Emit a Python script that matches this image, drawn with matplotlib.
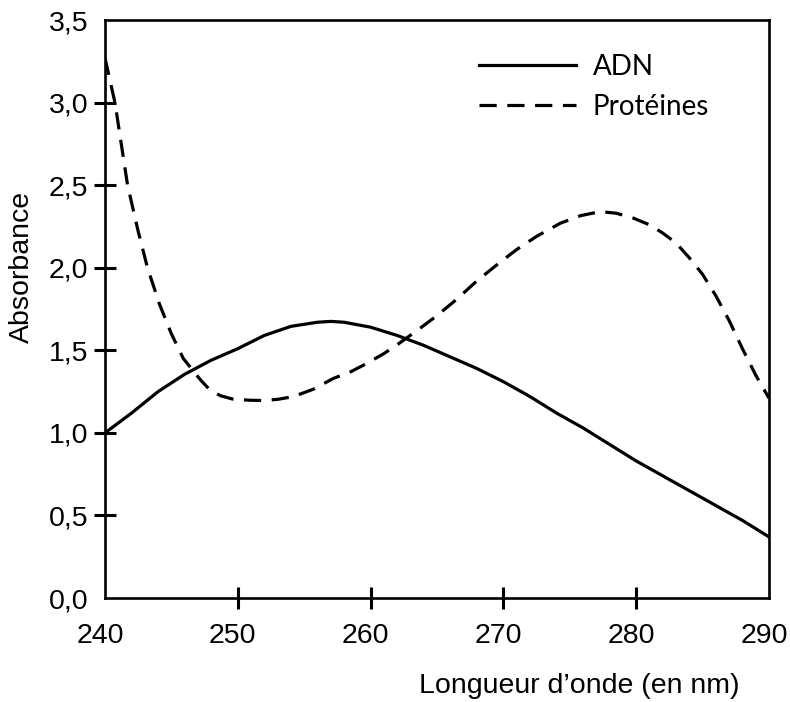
import numpy as np
import matplotlib
matplotlib.use("Agg")
import matplotlib.pyplot as plt
import matplotlib.transforms as mtransforms

#   Data
wl_adn = [240, 242, 244, 246, 248, 250, 252, 254, 256, 257, 258, 260, 262, 264,
          266, 268, 270, 272, 274, 276, 278, 280, 282, 284, 286, 288, 290]
abs_adn = [1.00, 1.12, 1.25, 1.355, 1.44, 1.51, 1.59, 1.645, 1.67, 1.675, 1.67, 1.64,
           1.59, 1.53, 1.46, 1.39, 1.31, 1.22, 1.12, 1.03, 0.93, 0.83, 0.74, 0.65,
           0.56, 0.47, 0.37]

wl_prot = [240, 240.75, 241.7, 242.5, 243.2, 244.1, 245, 245.9, 246.6, 247.2, 247.9,
           248.7, 249.6, 250.8, 251.9, 253, 254.2, 255.7, 257.2, 258.5, 259.7, 261,
           262.2, 263.5, 265, 266.5, 268, 269.7, 271, 272.5, 274.3, 275.8, 277.3,
           278.5, 279.8, 281, 282, 283, 284, 285, 286, 287, 288, 289, 290]
abs_prot = [3.27, 3.0, 2.5, 2.22, 2.0, 1.78, 1.6, 1.45, 1.38, 1.32, 1.26,
            1.225, 1.205, 1.198, 1.196, 1.203, 1.22, 1.265, 1.33, 1.37, 1.42, 1.48,
            1.545, 1.62, 1.71, 1.81, 1.92, 2.03, 2.11, 2.19, 2.27, 2.315, 2.34,
            2.33, 2.30, 2.26, 2.21, 2.15, 2.06, 1.96, 1.83, 1.68, 1.51, 1.35, 1.21]

xticks = [240, 250, 260, 270, 280, 290]
xticklabels = ["240", "250", "260", "270", "280", "290"]
yticks = [0.0, 0.5, 1.0, 1.5, 2.0, 2.5, 3.0, 3.5]
yticklabels = ["0,0", "0,5", "1,0", "1,5", "2,0", "2,5", "3,0", "3,5"]

plt.rcParams['font.family'] = ['Liberation Sans', 'DejaVu Sans']

fig = plt.figure(figsize=(7.9, 7.02), dpi=100)
ax = fig.add_axes([0.1329, 0.1481, 0.8405, 0.8234])

ax.plot(wl_adn, abs_adn, color='black', lw=2.3, label='ADN')
ax.plot(wl_prot, abs_prot, color='black', lw=2.3, dashes=(5.4, 3.3), label='Protéines')

ax.set_xlim(240, 290)
ax.set_ylim(0, 3.5)

for s in ax.spines.values():
    s.set_linewidth(1.9)

ax.set_xticks(xticks)
ax.set_xticklabels(xticklabels)
ax.set_yticks(yticks)
ax.set_yticklabels(yticklabels)
ax.tick_params(axis='both', direction='inout', length=16, width=2.2, labelsize=20.5)
ax.tick_params(axis='x', pad=10)
ax.tick_params(axis='y', pad=4)

#   No tick marks at the ends of the axes, only labels
for t in [ax.xaxis.get_major_ticks()[0], ax.xaxis.get_major_ticks()[-1],
          ax.yaxis.get_major_ticks()[0], ax.yaxis.get_major_ticks()[-1]]:
    t.tick1line.set_visible(False)

#   x labels sit a little left of their ticks in the reference
shift = mtransforms.ScaledTranslation(-5 / 100, 0, fig.dpi_scale_trans)
for lab in ax.get_xticklabels():
    lab.set_transform(lab.get_transform() + shift)

ax.set_xlabel("Longueur d\u2019onde (en nm)", fontsize=20.5)
ax.xaxis.set_label_coords(0.715, -0.152)
ax.xaxis.label.set_va('center')
ax.set_ylabel("Absorbance", fontsize=20.5)
ax.yaxis.set_label_coords(-0.125, 0.573)
ax.yaxis.label.set_va('center')

ax.legend(loc='upper left', bbox_to_anchor=(0.525, 0.985), frameon=False,
          handlelength=3.5, handletextpad=0.6, labelspacing=0.5,
          prop={'family': ['Lato', 'DejaVu Sans'], 'size': 20})

fig.savefig("out.png", dpi=100)
